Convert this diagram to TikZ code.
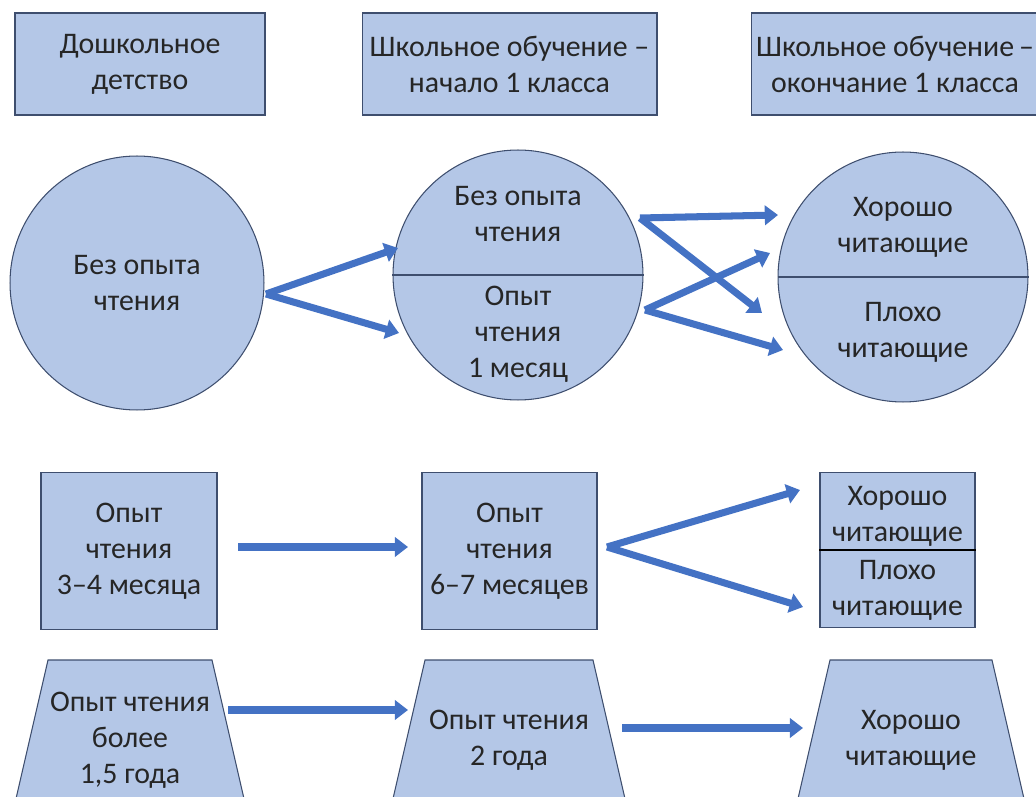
\documentclass[tikz,border=0pt]{standalone}
\usepackage{fontspec}
\setmainfont{Carlito}
\usepackage{tikz}
\usetikzlibrary{arrows.meta,shapes.geometric}
\definecolor{boxfill}{RGB}{180,199,231}
\definecolor{boxline}{RGB}{62,78,110}
\definecolor{arrblue}{RGB}{68,114,196}
\begin{document}
\begin{tikzpicture}[x=0.02cm, y=-0.02cm,
    blk/.style={draw=boxline, fill=boxfill, line width=0.6pt, align=center, text=black!85, font=\fontsize{17}{20.5}\selectfont},
    box/.style={blk, rectangle, inner sep=2pt},
    circ/.style={blk, circle, minimum size=5cm, inner sep=0pt},
    trap/.style={blk, trapezium, trapezium angle=77, inner ysep=1.6cm},
    lbl/.style={align=center, text=black!85, font=\fontsize{17}{20.5}\selectfont},
    arr/.style={-{Triangle[length=7.5pt, width=11pt]}, line width=4pt, draw=arrblue}
]
\useasboundingbox (0,0) rectangle (1036,797);

% stages
\node[box, minimum width=5cm, minimum height=2.04cm] (pre) at (140,64) {Дошкольное\\детство};
\node[box, minimum width=5.9cm, minimum height=2.04cm] (beg) at (509.5,64) {Школьное обучение –\\начало 1 класса};
\node[box, minimum width=5.76cm, minimum height=2.04cm] (fin) at (895,64) {Школьное обучение\,–\\окончание 1 класса};

% circles
\node[circ, minimum size=5.08cm] (c1) at (137,283) {Без опыта\\чтения};
\node[circ] (c2) at (518,275) {};
\draw[boxline, line width=0.8pt] (c2.west) -- (c2.east);
\node[lbl] (c2a) at (518,214) {Без опыта\\чтения};
\node[lbl] (c2b) at (518,334) {Опыт\\чтения\\1 месяц};
\node[circ] (c3) at (903,277) {};
\draw[boxline, line width=0.8pt] (c3.west) -- (c3.east);
\node[lbl] (c3a) at (903,227) {Хорошо\\читающие};
\node[lbl] (c3b) at (903,332) {Плохо\\читающие};

% boxes
\node[box, minimum width=3.52cm, minimum height=3.14cm] (r1) at (129,551) {Опыт\\чтения\\3–4 месяца};
\node[box, minimum width=3.5cm, minimum height=3.14cm] (r2) at (509.5,551) {Опыт\\чтения\\6–7 месяцев};
\node[box, minimum width=3.1cm, minimum height=3.1cm] (r3) at (897.5,550) {};
\draw[black, line width=1pt] (r3.west) -- (r3.east);
\node[lbl] (r3a) at (897.5,516) {Хорошо\\читающие};
\node[lbl] (r3b) at (897.5,590) {Плохо\\читающие};

% trapezia
\node[trap, inner xsep=1.64cm] (t1) at (130,740) {};
\node[lbl] (t1t) at (t1) {Опыт чтения\\более\\1,5 года};
\node[trap, inner xsep=1.68cm] (t2) at (509,740) {};
\node[lbl] (t2t) at (t2) {Опыт чтения\\2 года};
\node[trap, inner xsep=1.62cm] (t3) at (911,740) {};
\node[lbl] (t3t) at (t3) {Хорошо\\читающие};

% arrow ends
\coordinate (a0) at (266,294);
\coordinate (a1) at (398,248);
\coordinate (a2) at (399,333);
\coordinate (b0) at (640,218);
\coordinate (b1) at (778,215);
\coordinate (b2) at (762,313);
\coordinate (b3) at (645,310);
\coordinate (b4) at (770,253);
\coordinate (b5) at (783,350);
\coordinate (d0) at (238,547);
\coordinate (d1) at (408,547);
\coordinate (d2) at (607,547);
\coordinate (d3) at (800,490);
\coordinate (d4) at (803,607);
\coordinate (e0) at (228,710);
\coordinate (e1) at (408,710);
\coordinate (e2) at (622,728);
\coordinate (e3) at (803,728);

\draw[arr] (a0) -- (a1);
\draw[arr] (a0) -- (a2);
\draw[arr] (b0) -- (b1);
\draw[arr] (b0) -- (b2);
\draw[arr] (b3) -- (b4);
\draw[arr] (b3) -- (b5);
\draw[arr] (d0) -- (d1);
\draw[arr] (d2) -- (d3);
\draw[arr] (d2) -- (d4);
\draw[arr] (e0) -- (e1);
\draw[arr] (e2) -- (e3);
\end{tikzpicture}
\end{document}
